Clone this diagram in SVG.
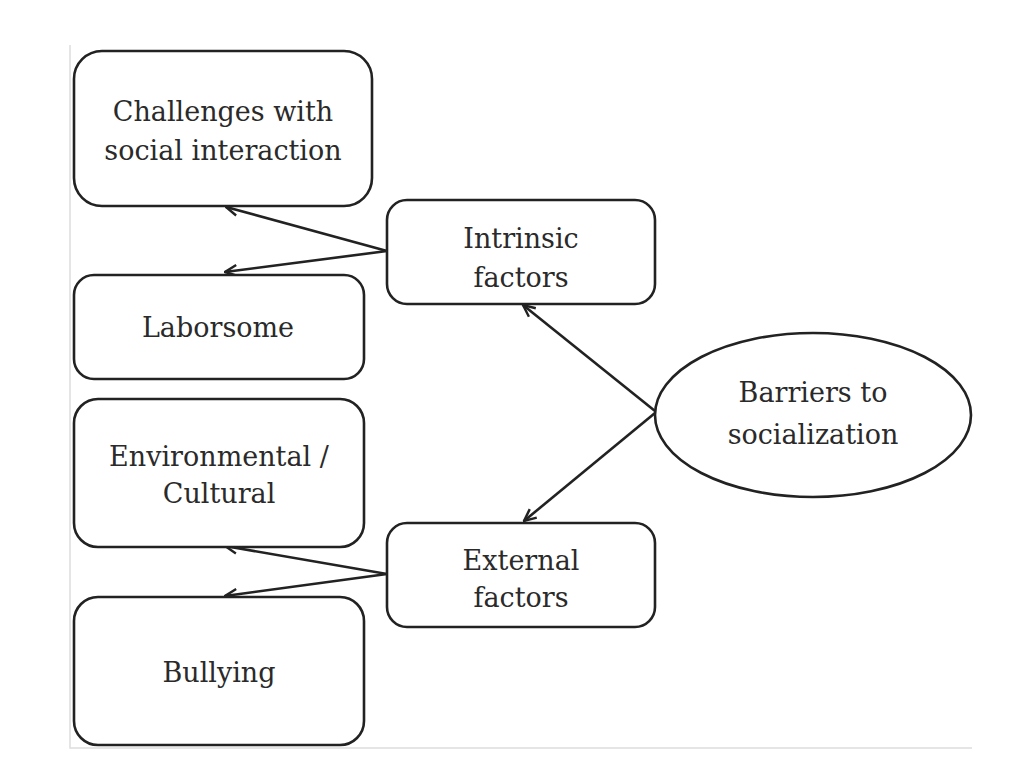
<svg xmlns="http://www.w3.org/2000/svg" width="1024" height="781" viewBox="0 0 1024 781">
<style>
.box{fill:#fff;stroke:#222;stroke-width:2.6}
.t{font-family:"DejaVu Serif","Liberation Serif",serif;font-size:27px;fill:#2a2a2a;text-anchor:middle}
.c{stroke:#222;stroke-width:2.6;fill:none;marker-end:url(#ah)}
</style>
<defs>
<marker id="ah" viewBox="0 0 14 14" refX="13" refY="7" markerWidth="14" markerHeight="14" markerUnits="userSpaceOnUse" orient="auto">
<path d="M1,1.5 L13,7 L1,12.5" fill="none" stroke="#222" stroke-width="2.4"/>
</marker>
</defs>
<rect width="1024" height="781" fill="#fff"/>
<path d="M70,45 V748 H972" fill="none" stroke="#ddd" stroke-width="1.5"/>
<g id="connectors">
<line class="c" x1="387" y1="251" x2="226" y2="207"/>
<line class="c" x1="387" y1="251" x2="225" y2="272"/>
<line class="c" x1="655" y1="411" x2="523" y2="305"/>
<line class="c" x1="655" y1="413" x2="524" y2="521"/>
<line class="c" x1="387" y1="574" x2="225" y2="546"/>
<line class="c" x1="387" y1="574" x2="225" y2="596"/>
</g>
<g id="challenges">
<rect class="box" x="74" y="51" width="298" height="155" rx="28"/>
<text class="t" x="223" y="121">Challenges with</text>
<text class="t" x="223" y="160">social interaction</text>
</g>
<g id="laborsome">
<rect class="box" x="74" y="275" width="290" height="104" rx="20"/>
<text class="t" x="218" y="337">Laborsome</text>
</g>
<g id="environmental">
<rect class="box" x="74" y="399" width="290" height="148" rx="24"/>
<text class="t" x="219" y="466">Environmental /</text>
<text class="t" x="219" y="503">Cultural</text>
</g>
<g id="bullying">
<rect class="box" x="74" y="597" width="290" height="148" rx="24"/>
<text class="t" x="219" y="682">Bullying</text>
</g>
<g id="intrinsic">
<rect class="box" x="387" y="200" width="268" height="104" rx="20"/>
<text class="t" x="521" y="248">Intrinsic</text>
<text class="t" x="521" y="287">factors</text>
</g>
<g id="external">
<rect class="box" x="387" y="523" width="268" height="104" rx="20"/>
<text class="t" x="521" y="570">External</text>
<text class="t" x="521" y="607">factors</text>
</g>
<g id="barriers">
<ellipse class="box" cx="813" cy="415" rx="158" ry="82"/>
<text class="t" x="813" y="402">Barriers to</text>
<text class="t" x="813" y="444">socialization</text>
</g>
</svg>
